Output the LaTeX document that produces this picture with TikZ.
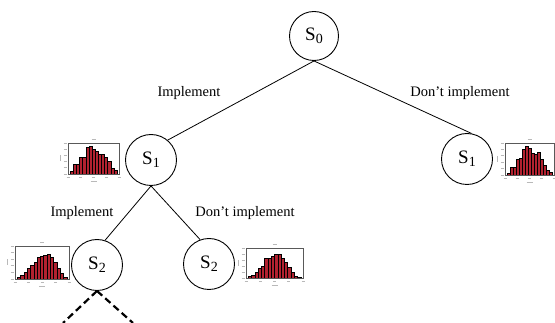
\documentclass[tikz,border=0pt]{standalone}
\usepackage{fontspec}
\setmainfont{Liberation Serif}
\definecolor{barred}{RGB}{178,34,48}
\newcommand\histo[6]{%
\begin{scope}[shift={(#1,#2)}]
 \pgfmathsetmacro\bw{0.92*#3/#5}
 \foreach \v [count=\i] in {#6} {
   \filldraw[fill=barred,draw=black,line width=0.35pt] ({0.04*#3+(\i-1)*\bw},#4) rectangle ++(\bw,{-\v*0.9*#4});
 }
 \draw[gray!70!black,line width=0.5pt] (0,0) rectangle (#3,#4);
 \foreach \t in {0,0.25,0.5,0.75,1} {
   \draw[gray!55,line width=0.7pt] ({\t*#3-1.5},#4+3.5) -- ++(3,0);
 }
 \foreach \t in {0,0.2,0.4,0.6,0.8,1} {
   \draw[gray!55,line width=0.7pt] (-4.5,{\t*#4}) -- ++(3,0);
 }
 \draw[gray!55,line width=0.7pt] ({0.5*#3-2},-3.5) -- ++(4,0);
 \draw[gray!55,line width=0.7pt] ({0.5*#3-3},#4+7.5) -- ++(6,0);
 \draw[gray!55,line width=0.7pt] (-8,{0.5*#4-3}) -- ++(0,6);
\end{scope}}
\begin{document}
\begin{tikzpicture}[x=1pt,y=-1pt,
  state/.style={circle,draw,line width=0.9pt,minimum size=51pt,inner sep=0pt,
    font=\fontsize{19}{19}\selectfont},
  edge/.style={line width=0.8pt},
  futur/.style={line width=2.2pt,dash pattern=on 7pt off 4pt},
  lbl/.style={font=\fontsize{14.5}{15}\selectfont,inner sep=0pt}]
\useasboundingbox (0,0) rectangle (555,323);
\newcommand\St[1]{S\raisebox{-3pt}{\fontsize{14}{14}\selectfont #1}}
\node[state,minimum size=49pt] (s0) at (314,36) {\St{0}};
\node[state] (s1l) at (151,160) {\St{1}};
\node[state] (s1r) at (467,159) {\St{1}};
\node[state] (s2l) at (97,265) {\St{2}};
\node[state] (s2r) at (209,264) {\St{2}};
\draw[edge] (s0.south) -- (s1l.50);
\draw[edge] (s0.south) -- (s1r.80);
\draw[edge] (s1l.south) -- (s2l.72);
\draw[edge] (s1l.south) -- (s2r.110);
\coordinate (d1) at (63,323);
\coordinate (d2) at (133,323);
\draw[futur] (s2l.south) -- (d1);
\draw[futur] (s2l.south) -- (d2);
\node[lbl] (l1) at (189,93) {Implement};
\node[lbl] (l2) at (460,93) {Don’t implement};
\node[lbl] (l3) at (82,213) {Implement};
\node[lbl] (l4) at (245,213) {Don’t implement};
\histo{68}{143}{51}{31}{15}{0.1,0.35,0.35,0.6,0.62,0.95,1.0,0.9,0.82,0.7,0.72,0.6,0.45,0.2,0.12}
\histo{505}{143}{49}{32}{15}{0.08,0.28,0.28,0.55,0.6,0.9,1.0,0.92,0.75,0.72,0.78,0.55,0.35,0.18,0.1}
\histo{15}{246}{54}{33}{15}{0.06,0.12,0.22,0.35,0.45,0.55,0.72,0.78,0.8,0.85,0.72,0.55,0.35,0.18,0.06}
\histo{246}{248}{57}{30}{16}{0.08,0.12,0.22,0.38,0.45,0.72,0.75,0.8,0.88,0.88,0.72,0.58,0.4,0.2,0.08,0.03}
\end{tikzpicture}
\end{document}
